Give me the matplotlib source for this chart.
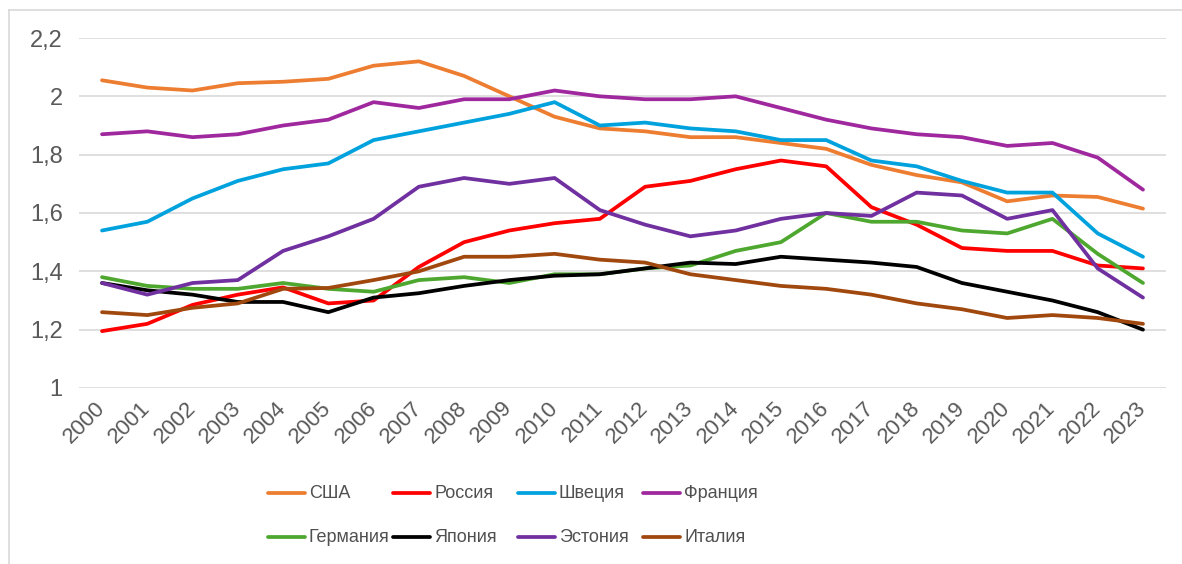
import matplotlib
matplotlib.use("Agg")
import matplotlib.pyplot as plt
from matplotlib.lines import Line2D
from matplotlib.ticker import FuncFormatter

years = list(range(2000, 2024))
year_labels = [str(y) for y in years]

usa = [2.055, 2.03, 2.02, 2.045, 2.05, 2.06, 2.105, 2.12, 2.07, 2.0, 1.93, 1.89,
       1.88, 1.86, 1.86, 1.84, 1.82, 1.765, 1.73, 1.705, 1.64, 1.66, 1.655, 1.615]
russia = [1.195, 1.22, 1.285, 1.32, 1.345, 1.29, 1.30, 1.415, 1.50, 1.54, 1.565, 1.58,
          1.69, 1.71, 1.75, 1.78, 1.76, 1.62, 1.56, 1.48, 1.47, 1.47, 1.42, 1.41]
sweden = [1.54, 1.57, 1.65, 1.71, 1.75, 1.77, 1.85, 1.88, 1.91, 1.94, 1.98, 1.90,
          1.91, 1.89, 1.88, 1.85, 1.85, 1.78, 1.76, 1.71, 1.67, 1.67, 1.53, 1.45]
france = [1.87, 1.88, 1.86, 1.87, 1.90, 1.92, 1.98, 1.96, 1.99, 1.99, 2.02, 2.00,
          1.99, 1.99, 2.00, 1.96, 1.92, 1.89, 1.87, 1.86, 1.83, 1.84, 1.79, 1.68]
germany = [1.38, 1.35, 1.34, 1.34, 1.36, 1.34, 1.33, 1.37, 1.38, 1.36, 1.39, 1.39,
           1.41, 1.42, 1.47, 1.50, 1.60, 1.57, 1.57, 1.54, 1.53, 1.58, 1.46, 1.36]
japan = [1.36, 1.335, 1.32, 1.295, 1.295, 1.26, 1.31, 1.325, 1.35, 1.37, 1.385, 1.39,
         1.41, 1.43, 1.425, 1.45, 1.44, 1.43, 1.415, 1.36, 1.33, 1.30, 1.26, 1.20]
estonia = [1.36, 1.32, 1.36, 1.37, 1.47, 1.52, 1.58, 1.69, 1.72, 1.70, 1.72, 1.61,
           1.56, 1.52, 1.54, 1.58, 1.60, 1.59, 1.67, 1.66, 1.58, 1.61, 1.41, 1.31]
italy = [1.26, 1.25, 1.275, 1.29, 1.34, 1.343, 1.37, 1.40, 1.45, 1.45, 1.46, 1.44,
         1.43, 1.39, 1.37, 1.35, 1.34, 1.32, 1.29, 1.27, 1.24, 1.25, 1.24, 1.22]

names = ["США", "Россия", "Швеция", "Франция", "Германия", "Япония", "Эстония", "Италия"]
series = [usa, russia, sweden, france, germany, japan, estonia, italy]
colors = ["#ED7D31", "#FF0000", "#00A2DE", "#A0289E", "#4EA72E", "#000000", "#7030A0", "#A0480E"]

plt.rcParams['font.family'] = ['Liberation Sans', 'DejaVu Sans']

W, H = 1182, 564
fig = plt.figure(figsize=(W / 100, H / 100), dpi=100)
ax = fig.add_axes([79.4 / W, 1 - 388 / H, (1165.6 - 79.4) / W, (388 - 38) / H])

x = list(range(len(years)))
for vals, c in zip(series, colors):
    ax.plot(x, vals, color=c, lw=2.7, solid_joinstyle='round', solid_capstyle='round', zorder=3)

ax.set_xlim(-0.5, len(years) - 0.5)
ax.set_ylim(1.0, 2.2)
ax.set_yticks([1.0, 1.2, 1.4, 1.6, 1.8, 2.0, 2.2])
ax.yaxis.set_major_formatter(FuncFormatter(lambda v, p: f"{v:.1f}".rstrip('0').rstrip('.').replace('.', ',')))
ax.set_xticks(x)
ax.set_xticklabels(year_labels, rotation=45, ha='right', va='center', rotation_mode='anchor')
ax.tick_params(axis='both', length=0, colors='#595959')
ax.tick_params(axis='y', pad=12, labelsize=17)
ax.tick_params(axis='x', pad=12, labelsize=16)
ax.grid(axis='y', color='#D9D9D9', lw=1.2, zorder=0)
for s in ax.spines.values():
    s.set_visible(False)

# manual legend
rows_y = [493, 537]
col_x0 = 268
col_dx = 125
for i, (nm, c) in enumerate(zip(names, colors)):
    r, cidx = divmod(i, 4)
    x0 = col_x0 + cidx * col_dx
    yy = 1 - rows_y[r] / H
    fig.add_artist(Line2D([x0 / W, (x0 + 37) / W], [yy, yy], color=c, lw=2.7,
                          solid_capstyle='round', transform=fig.transFigure))
    fig.text((x0 + 41) / W, yy, nm, ha='left', va='center', fontsize=13, color='#505050')

# faint frame (top and left)
fig.add_artist(Line2D([9 / W, 9 / W], [0, 1 - 10 / H], color='#D9D9D9', lw=1.2, transform=fig.transFigure))
fig.add_artist(Line2D([9 / W, 1], [1 - 10 / H, 1 - 10 / H], color='#D9D9D9', lw=1.2, transform=fig.transFigure))

fig.savefig("out.png", dpi=100, facecolor='white')
